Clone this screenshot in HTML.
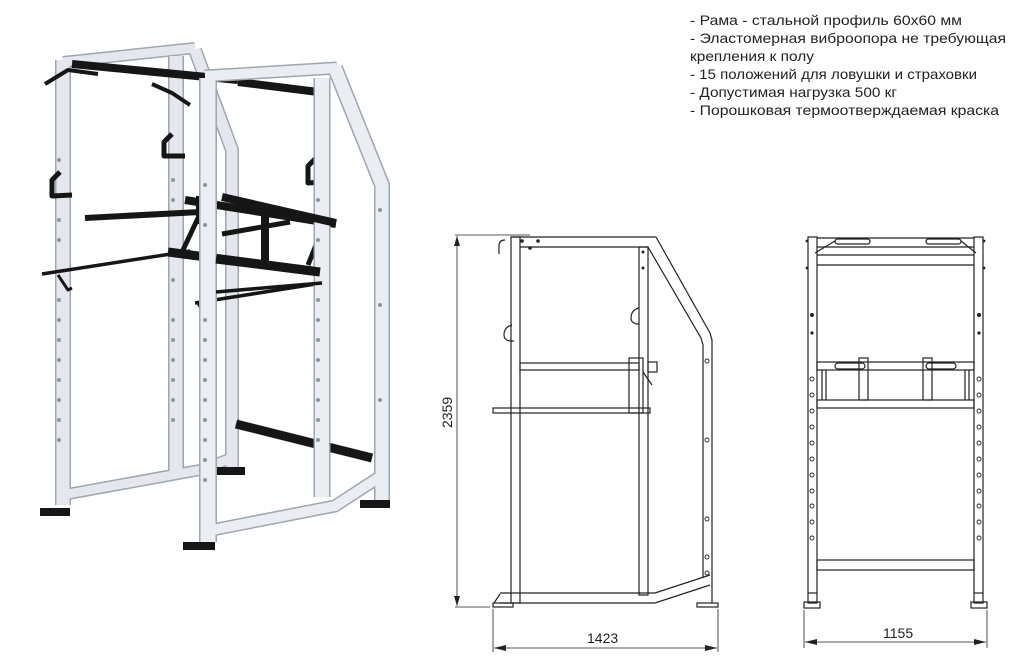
<!DOCTYPE html>
<html><head><meta charset="utf-8"><style>
html,body{margin:0;padding:0;background:#fff;width:1024px;height:661px;overflow:hidden}
svg{display:block}
text{font-family:"Liberation Sans",sans-serif}
</style></head><body>
<svg width="1024" height="661" viewBox="0 0 1024 661" xmlns="http://www.w3.org/2000/svg">
<!-- ===== Rendered rack ===== -->
<g fill="none" stroke-linecap="butt" stroke-linejoin="round">
  <g stroke="#9ea6b0">
    <polyline points="195,50 232,150 232,470" stroke-width="14"/>
    <line x1="63" y1="62" x2="195" y2="48" stroke-width="12"/>
    <line x1="63" y1="60" x2="63" y2="505" stroke-width="16"/>
    <line x1="176" y1="56" x2="176" y2="472" stroke-width="16"/>
    <polyline points="68,494 200,470 232,458" stroke-width="12"/>
  </g>
  <g stroke="#e4e8ee">
    <polyline points="195,50 232,150 232,470" stroke-width="11"/>
    <line x1="63" y1="62" x2="195" y2="48" stroke-width="9"/>
    <line x1="63" y1="60" x2="63" y2="505" stroke-width="13"/>
    <line x1="176" y1="56" x2="176" y2="472" stroke-width="13"/>
    <polyline points="68,494 200,470 232,458" stroke-width="9"/>
  </g>
  <g stroke="#161616">
    <line x1="72" y1="64" x2="238" y2="80" stroke-width="8"/>
    <line x1="238" y1="82" x2="318" y2="92" stroke-width="8"/>
    <polyline points="45,84 68,70 98,74" stroke-width="4"/>
    <polyline points="152,84 172,93 190,105" stroke-width="4"/>
    <line x1="236" y1="424" x2="372" y2="458" stroke-width="9"/>
    <line x1="85" y1="218" x2="200" y2="212" stroke-width="6"/>
    <line x1="42" y1="274" x2="190" y2="251" stroke-width="3.5"/>
    <line x1="185" y1="200" x2="336" y2="224" stroke-width="8"/>
    <line x1="168" y1="252" x2="320" y2="272" stroke-width="9"/>
    <line x1="265" y1="212" x2="265" y2="262" stroke-width="8"/>
    <line x1="183" y1="250" x2="198" y2="218" stroke-width="5"/>
    <line x1="308" y1="265" x2="318" y2="240" stroke-width="5"/>
    <line x1="222" y1="234" x2="290" y2="222" stroke-width="5"/>
    <line x1="195" y1="303" x2="322" y2="283" stroke-width="3.5"/>
    <polyline points="60,172 52,180 52,196 72,195" stroke-width="5"/>
    <polyline points="172,134 164,142 164,156 185,156" stroke-width="5"/>
    <polyline points="316,158 308,166 308,183 322,182" stroke-width="5"/>
    <polyline points="58,275 68,290 72,288" stroke-width="3"/>
    <polyline points="198,303 205,316" stroke-width="3"/>
  </g>
  <g fill="#161616" stroke="none">
    <rect x="40" y="508" width="30" height="8"/>
    <rect x="217" y="467" width="28" height="8"/>
    <rect x="183" y="542" width="32" height="8"/>
    <rect x="360" y="500" width="30" height="8"/>
    <rect x="196" y="196" width="14" height="28"/>
  </g>
  <g stroke="#9ea6b0">
    <line x1="205" y1="76" x2="337" y2="68" stroke-width="13"/>
    <polyline points="335,68 382,185 382,500" stroke-width="16"/>
    <line x1="208" y1="78" x2="208" y2="542" stroke-width="18"/>
    <line x1="322" y1="78" x2="322" y2="497" stroke-width="17"/>
    <polyline points="212,530 335,506 378,478" stroke-width="13"/>
  </g>
  <g stroke="#eaedf2">
    <line x1="205" y1="76" x2="337" y2="68" stroke-width="10"/>
    <polyline points="335,68 382,185 382,500" stroke-width="13"/>
    <line x1="208" y1="78" x2="208" y2="542" stroke-width="15"/>
    <line x1="322" y1="78" x2="322" y2="497" stroke-width="14"/>
    <polyline points="212,530 335,506 378,478" stroke-width="10"/>
  </g>
  <g stroke="#161616">
    <line x1="222" y1="197" x2="336" y2="223" stroke-width="8"/>
    <line x1="216" y1="259" x2="320" y2="272" stroke-width="9"/>
    <line x1="216" y1="292" x2="322" y2="283" stroke-width="3.5"/>
  </g>
  <g fill="#8c949e">
    <circle cx="59" cy="160" r="2"/><circle cx="59" cy="220" r="2"/><circle cx="59" cy="240" r="2"/><circle cx="59" cy="300" r="2"/><circle cx="59" cy="320" r="2"/><circle cx="59" cy="340" r="2"/><circle cx="59" cy="360" r="2"/><circle cx="59" cy="380" r="2"/><circle cx="59" cy="400" r="2"/><circle cx="59" cy="420" r="2"/><circle cx="59" cy="440" r="2"/>
    <circle cx="173" cy="180" r="2"/><circle cx="173" cy="200" r="2"/><circle cx="173" cy="280" r="2"/><circle cx="173" cy="320" r="2"/><circle cx="173" cy="340" r="2"/><circle cx="173" cy="360" r="2"/><circle cx="173" cy="380" r="2"/><circle cx="173" cy="400" r="2"/><circle cx="173" cy="420" r="2"/>
    <circle cx="205" cy="185" r="2"/><circle cx="205" cy="225" r="2"/><circle cx="205" cy="320" r="2"/><circle cx="205" cy="340" r="2"/><circle cx="205" cy="360" r="2"/><circle cx="205" cy="380" r="2"/><circle cx="205" cy="400" r="2"/><circle cx="205" cy="420" r="2"/><circle cx="205" cy="440" r="2"/><circle cx="205" cy="460" r="2"/><circle cx="205" cy="480" r="2"/>
    <circle cx="318" cy="200" r="2"/><circle cx="318" cy="240" r="2"/><circle cx="318" cy="300" r="2"/><circle cx="318" cy="320" r="2"/><circle cx="318" cy="340" r="2"/><circle cx="318" cy="360" r="2"/><circle cx="318" cy="380" r="2"/><circle cx="318" cy="400" r="2"/><circle cx="318" cy="420" r="2"/><circle cx="318" cy="440" r="2"/>
    <circle cx="380" cy="210" r="2"/><circle cx="380" cy="305" r="2"/><circle cx="380" cy="400" r="2"/>
  </g>
</g>

<!-- ===== Side view drawing ===== -->
<g fill="none" stroke="#222" stroke-width="1.2">
  <line x1="455" y1="235" x2="530" y2="235" stroke-width="0.8"/>
  <line x1="455" y1="607" x2="490" y2="607" stroke-width="0.8"/>
  <line x1="457" y1="236" x2="457" y2="606" stroke-width="0.8"/>
  <line x1="493" y1="609" x2="493" y2="652" stroke-width="0.8"/>
  <line x1="718" y1="609" x2="718" y2="652" stroke-width="0.8"/>
  <line x1="494" y1="648" x2="717" y2="648" stroke-width="0.8"/>
  <rect x="511" y="237" width="9" height="366"/>
  <line x1="511" y1="237" x2="656" y2="237"/>
  <line x1="520" y1="247" x2="648" y2="247"/>
  <rect x="639" y="247" width="9" height="348"/>
  <polyline points="656,237 710,333 712,340 712,603"/>
  <polyline points="648,247 701,338 703,345 703,578"/>
  <rect x="520" y="363" width="119" height="7"/>
  <rect x="493" y="408" width="157" height="5"/>
  <polyline points="500,593 655,593 710,575"/>
  <polyline points="500,603 655,603 710,585"/>
  <rect x="493" y="603" width="20" height="4"/>
  <rect x="697" y="603" width="21" height="4"/>
  <path d="M500 594 L494 603"/>
  <rect x="629" y="358" width="14" height="55"/>
  <rect x="648" y="362" width="9" height="10"/>
  <line x1="643" y1="372" x2="652" y2="385"/>
  <path d="M505 240 q-6 0 -6 6 l0 8"/>
  <path d="M512 325 q-8 2 -8 10 q0 5 6 6 l4 0"/>
  <path d="M639 308 q-8 2 -8 10 q0 5 6 6 l2 0"/>
</g>
<g fill="#222">
  <circle cx="522" cy="241" r="1.8"/><circle cx="538" cy="241" r="1.8"/><circle cx="530" cy="248" r="1.8"/>
  <circle cx="643" cy="252" r="1.5"/><circle cx="643" cy="268" r="1.5"/>
</g>
<g fill="none" stroke="#222" stroke-width="0.9">
  <circle cx="707" cy="361" r="2"/><circle cx="707" cy="440" r="2"/><circle cx="707" cy="519" r="2"/><circle cx="707" cy="557" r="2"/><circle cx="707" cy="573" r="2"/>
</g>
<path d="M457 236 l-3 10 l6 0 z M457 606 l-3 -10 l6 0 z M494 648 l12 -3 l0 6 z M717 648 l-12 -3 l0 6 z" fill="#222"/>
<text x="0" y="0" font-size="14" fill="#222" transform="translate(452,428) rotate(-90)">2359</text>
<text x="587" y="643" font-size="14" fill="#222">1423</text>

<!-- ===== Front view drawing ===== -->
<g fill="none" stroke="#222" stroke-width="1.2">
  <rect x="808" y="237" width="9" height="366"/>
  <rect x="974" y="237" width="9" height="366"/>
  <line x1="817" y1="238" x2="974" y2="238"/>
  <line x1="817" y1="247" x2="974" y2="247"/>
  <line x1="817" y1="255" x2="974" y2="255"/>
  <line x1="817" y1="265" x2="974" y2="265"/>
  <rect x="835" y="239" width="35" height="5" rx="2.5"/>
  <rect x="926" y="239" width="35" height="5" rx="2.5"/>
  <line x1="815" y1="253" x2="835" y2="241"/>
  <line x1="976" y1="253" x2="961" y2="241"/>
  <rect x="817" y="362" width="157" height="8"/>
  <rect x="817" y="400" width="157" height="8"/>
  <line x1="822" y1="370" x2="822" y2="400"/><line x1="826" y1="370" x2="826" y2="400"/>
  <line x1="965" y1="370" x2="965" y2="400"/><line x1="969" y1="370" x2="969" y2="400"/>
  <rect x="859" y="358" width="9" height="42"/>
  <rect x="923" y="358" width="9" height="42"/>
  <rect x="835" y="363" width="30" height="6" rx="3"/>
  <rect x="926" y="363" width="30" height="6" rx="3"/>
  <rect x="817" y="560" width="157" height="10"/>
  <rect x="804" y="602" width="16" height="6"/>
  <rect x="971" y="602" width="16" height="6"/>
  <line x1="808" y1="593" x2="817" y2="593"/><line x1="974" y1="593" x2="983" y2="593"/>
  <line x1="804" y1="610" x2="804" y2="648" stroke-width="0.8"/>
  <line x1="987" y1="610" x2="987" y2="648" stroke-width="0.8"/>
  <line x1="805" y1="642" x2="986" y2="642" stroke-width="0.8"/>
</g>
<g fill="none" stroke="#222" stroke-width="0.9">
  <circle cx="812" cy="379" r="2"/><circle cx="812" cy="395" r="2"/><circle cx="812" cy="411" r="2"/><circle cx="812" cy="427" r="2"/><circle cx="812" cy="443" r="2"/><circle cx="812" cy="459" r="2"/><circle cx="812" cy="475" r="2"/><circle cx="812" cy="491" r="2"/><circle cx="812" cy="506" r="2"/><circle cx="812" cy="522" r="2"/><circle cx="812" cy="538" r="2"/>
  <circle cx="979" cy="379" r="2"/><circle cx="979" cy="395" r="2"/><circle cx="979" cy="411" r="2"/><circle cx="979" cy="427" r="2"/><circle cx="979" cy="443" r="2"/><circle cx="979" cy="459" r="2"/><circle cx="979" cy="475" r="2"/><circle cx="979" cy="491" r="2"/><circle cx="979" cy="506" r="2"/><circle cx="979" cy="522" r="2"/><circle cx="979" cy="538" r="2"/>
</g>
<g fill="#222">
  <circle cx="812" cy="315" r="2"/><circle cx="979" cy="315" r="2"/>
  <circle cx="812" cy="333" r="1.6"/><circle cx="979" cy="333" r="1.6"/>
  <circle cx="807" cy="241" r="1.4"/><circle cx="984" cy="241" r="1.4"/>
  <circle cx="807" cy="268" r="1.4"/><circle cx="984" cy="268" r="1.4"/>
</g>
<path d="M805 642 l12 -3 l0 6 z M986 642 l-12 -3 l0 6 z" fill="#222"/>
<text x="883" y="638" font-size="14" fill="#222">1155</text>

<!-- ===== Text ===== -->
<g font-size="14" fill="#222">
  <text x="690" y="25" textLength="272" lengthAdjust="spacingAndGlyphs">- Рама - стальной профиль 60x60 мм</text>
  <text x="690" y="43" textLength="316" lengthAdjust="spacingAndGlyphs">- Эластомерная виброопора не требующая</text>
  <text x="690" y="61" textLength="124" lengthAdjust="spacingAndGlyphs">крепления к полу</text>
  <text x="690" y="79" textLength="287" lengthAdjust="spacingAndGlyphs">- 15 положений для ловушки и страховки</text>
  <text x="690" y="97" textLength="207" lengthAdjust="spacingAndGlyphs">- Допустимая нагрузка 500 кг</text>
  <text x="690" y="115" textLength="309" lengthAdjust="spacingAndGlyphs">- Порошковая термоотверждаемая краска</text>
</g>
</svg>
</body></html>
